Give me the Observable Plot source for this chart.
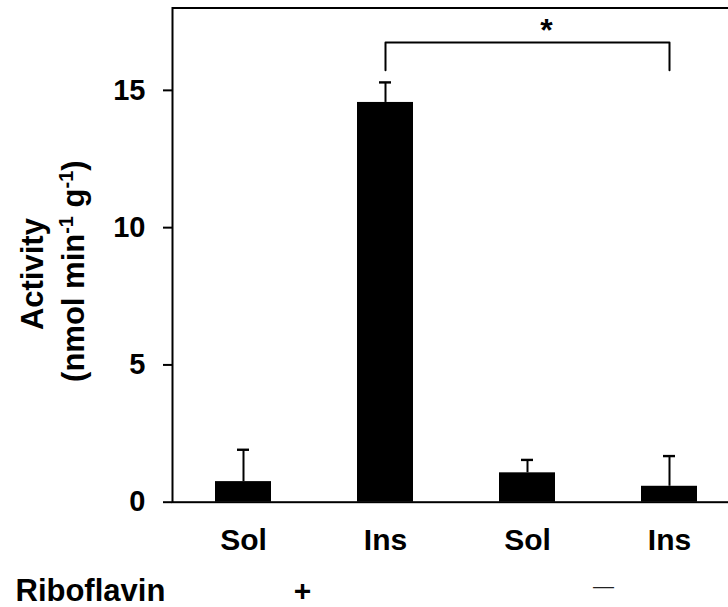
<!DOCTYPE html>
<html><head><meta charset="utf-8">
<script src="https://cdn.jsdelivr.net/npm/d3@7"></script>
<script src="https://cdn.jsdelivr.net/npm/@observablehq/plot@0.6"></script>
<style>
html,body{margin:0;padding:0;background:#fff;}
</style>
</head><body><div id="chart"></div>
<script>
// ---- data ----
const fractions = ["Sol", "Ins", "Sol", "Ins"];
const riboflavin = ["+", "+", "−", "−"];
const activity = [0.75, 14.56, 1.07, 0.58];
const errorSD = [1.16, 0.73, 0.47, 1.10];
const yTicks = [0, 5, 10, 15];
const yTitle = ["Activity", "(nmol min-1 g-1)"];
const groupTitle = ["Riboflavin"];
const groupLabels = ["+", "—"];
const sigLabel = ["*"];
const bracketPair = [1, 3];          // compared bars (indices)
const bracketLevels = [15.73, 16.74]; // leg bottom, bracket top (data units)

// ---- derived tables ----
const keys = fractions.map((f, i) => f + riboflavin[i]);
const labelOf = Object.fromEntries(keys.map((k, i) => [k, fractions[i]]));
const rows = keys.map((k, i) => ({key: k, value: activity[i], hi: activity[i] + errorSD[i]}));
const bracket = [
  {key: keys[bracketPair[0]], y: bracketLevels[0]},
  {key: keys[bracketPair[0]], y: bracketLevels[1]},
  {key: keys[bracketPair[1]], y: bracketLevels[1]},
  {key: keys[bracketPair[1]], y: bracketLevels[0]}
];
const font = "'Liberation Sans', Arial, Helvetica, sans-serif";

const chart = Plot.plot({
  width: 728,
  height: 607,
  marginTop: 7.5,
  marginBottom: 105.3,
  marginLeft: 172,
  marginRight: -12,
  style: {fontFamily: font, fontWeight: "bold", color: "#000", background: "#fff", overflow: "hidden"},
  x: {domain: keys, paddingInner: 0.604, paddingOuter: 0.302, axis: null},
  y: {domain: [0, 18], axis: null},
  marks: [
    Plot.barY(rows, {x: "key", y: "value", fill: "#000"}),
    Plot.ruleX(rows, {x: "key", y1: "value", y2: "hi", strokeWidth: 2}),
    Plot.tickY(rows, {x: "key", y: "hi", strokeWidth: 2.4, insetLeft: 22, insetRight: 22}),
    Plot.frame({strokeWidth: 2}),
    Plot.axisY({ticks: yTicks, tickSize: 9, tickPadding: 18, strokeWidth: 2, fontSize: 29, fontWeight: "bold", label: null}),
    Plot.axisX({tickSize: 0, tickPadding: 26, fontSize: 30, fontWeight: "bold", tickFormat: d => labelOf[d], label: null}),
    Plot.line(bracket, {x: "key", y: "y", strokeWidth: 2}),
    Plot.text([{key: keys[bracketPair[0]], y: bracketLevels[1], t: sigLabel[0]}], {x: "key", y: "y", text: "t", dx: 161, dy: -12, fontSize: 32, fontWeight: "bold", lineAnchor: "middle"}),
    Plot.text([yTitle[0]], {text: d => d, frameAnchor: "left", rotate: -90, dx: -139, dy: 19, fontSize: 31, fontWeight: "bold", textAnchor: "middle", lineAnchor: "middle"}),
    Plot.text([yTitle[1]], {text: d => d, frameAnchor: "left", rotate: -90, dx: -98, dy: 16, fontSize: 31, fontWeight: "bold", textAnchor: "middle", lineAnchor: "middle"}),
    Plot.text(groupTitle, {text: d => d, frameAnchor: "bottom-left", textAnchor: "start", dx: -157, dy: 89, fontSize: 31, fontWeight: "bold", lineAnchor: "middle"}),
    Plot.text([{key: keys[0], t: groupLabels[0]}], {x: "key", text: "t", frameAnchor: "bottom", dx: 59, dy: 89, fontSize: 30, fontWeight: "bold", lineAnchor: "middle"}),
    Plot.text([{key: keys[2], t: groupLabels[1]}], {x: "key", text: "t", frameAnchor: "bottom", dx: 76, dy: 84, fontSize: 21, fontWeight: "normal", fill: "#222", lineAnchor: "middle"})
  ]
});
document.getElementById("chart").appendChild(chart);

// superscripts in the y title
d3.select(chart).selectAll("text").filter(function() { return this.textContent === yTitle[1]; }).each(function() {
  const t = d3.select(this);
  t.text(null);
  const parts = [["(nmol min", 0], ["-1", -11], [" g", 11], ["-1", -11], [")", 11]];
  parts.forEach(([s, dy]) => {
    const sp = t.append("tspan").text(s);
    if (dy) sp.attr("dy", dy);
    if (dy < 0) sp.attr("font-size", 20);
  });
});
</script>
</body></html>
